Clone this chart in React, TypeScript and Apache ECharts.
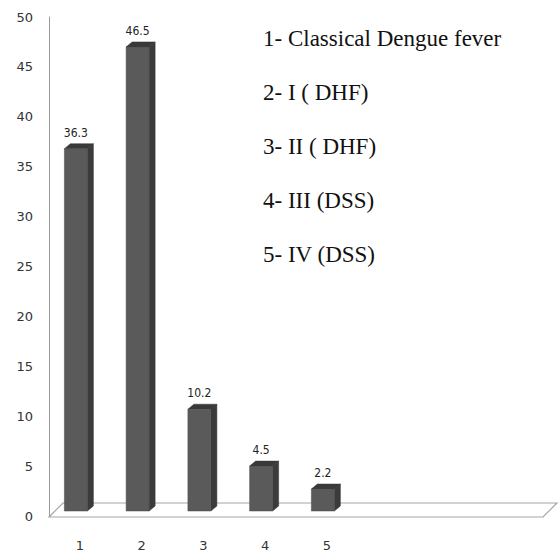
import React, { useEffect, useRef } from "react";
import * as echarts from "echarts";

const categories = ["1", "2", "3", "4", "5", "", "", ""];
const values = [36.3, 46.5, 10.2, 4.5, 2.2];
const yTicks = [0, 5, 10, 15, 20, 25, 30, 35, 40, 45, 50];
const legendLines = [
  "1- Classical Dengue fever",
  "2- I ( DHF)",
  "3- II ( DHF)",
  "4- III (DSS)",
  "5- IV (DSS)",
];

export default function App() {
  const ref = useRef<HTMLDivElement>(null);
  useEffect(() => {
    if (!ref.current) return;
    document.body.style.margin = "0";
    const chart = echarts.init(ref.current, undefined, { renderer: "svg" });
    const gridLeft = 49;
    const gridRight = 16;
    const gridTop = 17;
    const gridBottom = 35;
    const W = 559;
    const H = 552;
    const x0 = gridLeft;
    const x1 = W - gridRight;
    const yb = H - gridBottom;
    const depthX = 14;
    const depthY = 14;

    const option: any = {
      animation: false,
      backgroundColor: "#ffffff",
      grid: { left: gridLeft, right: gridRight, top: gridTop, bottom: gridBottom },
      xAxis: {
        type: "category",
        data: categories,
        axisLine: { show: false },
        axisTick: { show: false },
        axisLabel: {
          color: "#333",
          fontFamily: "DejaVu Sans",
          fontSize: 13,
          margin: 23,
        },
      },
      yAxis: {
        type: "value",
        min: yTicks[0],
        max: yTicks[yTicks.length - 1],
        interval: 5,
        splitLine: { show: false },
        axisTick: { show: false },
        axisLine: { show: true, lineStyle: { color: "#999", width: 1 } },
        axisLabel: {
          color: "#333",
          fontFamily: "DejaVu Sans",
          fontSize: 13,
          margin: 16,
        },
      },
      graphic: [
        {
          type: "polygon",
          z: 0,
          silent: true,
          shape: {
            points: [
              [x0, yb],
              [x1, yb],
              [x1 + depthX, yb - depthY],
              [x0 + depthX, yb - depthY],
            ],
          },
          style: { fill: "#ffffff", stroke: "#a6a6a6", lineWidth: 1.2 },
        },
        ...legendLines.map((t, i) => ({
          type: "text",
          x: 263,
          y: 38 + i * 54,
          z: 10,
          style: {
            text: t,
            fill: "#111",
            font: "23px 'Liberation Serif', 'DejaVu Serif', serif",
            verticalAlign: "middle",
          },
        })),
      ],
      series: [
        {
          type: "custom",
          z: 5,
          data: values.map((v, i) => [i, v]),
          renderItem: (params: any, api: any) => {
            const idx = api.value(0);
            const v = api.value(1);
            const top = api.coord([idx, v]);
            const base = api.coord([idx, 0]);
            const cx = top[0];
            const lift = 5;
            const fl = cx - 15.5;
            const fr = cx + 7.5;
            const ft = top[1] - lift;
            const fb = base[1] - lift;
            const dx = 6;
            const dy = 5;
            return {
              type: "group",
              children: [
                {
                  type: "polygon",
                  shape: {
                    points: [
                      [fr, ft],
                      [fr + dx, ft - dy],
                      [fr + dx, fb - dy],
                      [fr, fb],
                    ],
                  },
                  style: { fill: "#3b3b3b", stroke: "#333", lineWidth: 0.5 },
                },
                {
                  type: "polygon",
                  shape: {
                    points: [
                      [fl, ft],
                      [fr, ft],
                      [fr + dx, ft - dy],
                      [fl + dx, ft - dy],
                    ],
                  },
                  style: { fill: "#393939", stroke: "#333", lineWidth: 0.5 },
                },
                {
                  type: "rect",
                  shape: { x: fl, y: ft, width: fr - fl, height: fb - ft },
                  style: { fill: "#5a5a5a", stroke: "#4a4a4a", lineWidth: 0.5 },
                },
                {
                  type: "text",
                  x: (fl + fr) / 2,
                  y: ft - dy - 11,
                  style: {
                    text: String(v),
                    fill: "#222",
                    font: "12px 'Liberation Sans Narrow', 'DejaVu Sans Condensed', 'DejaVu Sans', sans-serif",
                    align: "center",
                    verticalAlign: "middle",
                  },
                },
              ],
            };
          },
        },
      ],
    };
    chart.setOption(option);
    return () => chart.dispose();
  }, []);
  return <div ref={ref} style={{ width: 559, height: 552 }} />;
}
